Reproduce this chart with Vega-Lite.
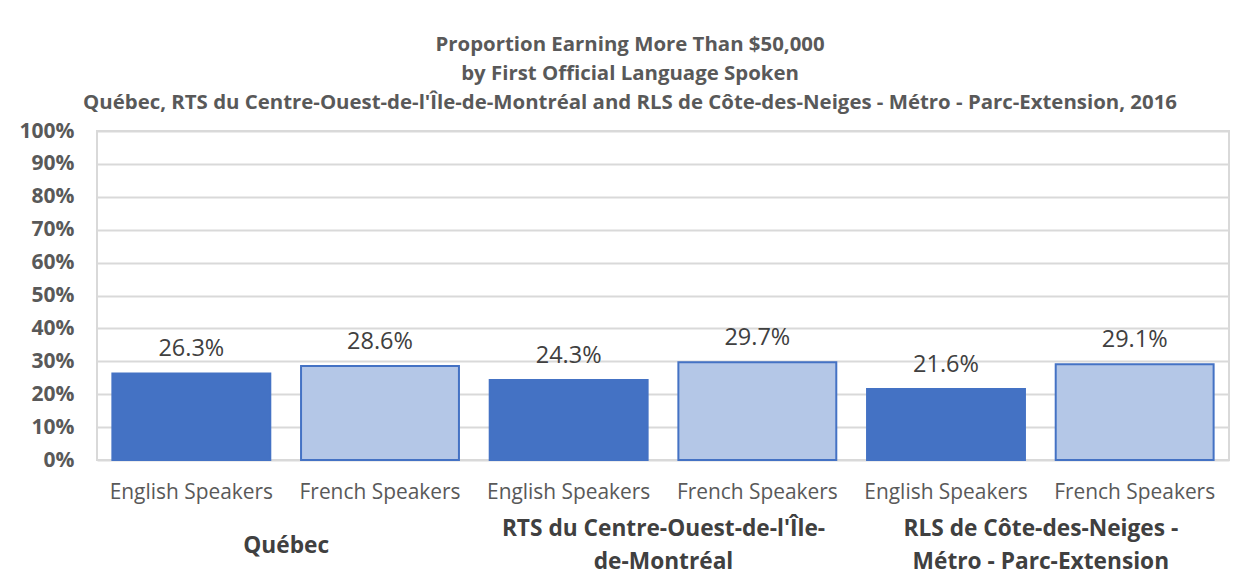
{
  "$schema": "https://vega.github.io/schema/vega-lite/v6.json",
  "autosize": {"type": "none"},
  "width": 1132,
  "height": 329,
  "padding": {"left": 97, "top": 131, "right": 19, "bottom": 120},
  "background": "white",
  "title": {
    "text": ["Proportion Earning More Than $50,000", "by First Official Language Spoken", "Québec, RTS du Centre-Ouest-de-l'Île-de-Montréal and RLS de Côte-des-Neiges - Métro - Parc-Extension, 2016"],
    "anchor": "middle",
    "frame": "bounds",
    "font": "Open Sans",
    "fontSize": 20.4,
    "fontWeight": "bold",
    "color": "#595959",
    "lineHeight": 29,
    "offset": 7,
    "dx": 6
  },
  "data": {
    "values": [
      {"region": "Québec", "lang": "English Speakers", "bar": "Québec|English Speakers", "value": 0.263},
      {"region": "Québec", "lang": "French Speakers", "bar": "Québec|French Speakers", "value": 0.286},
      {"region": "RTS du Centre-Ouest-de-l'Île-de-Montréal", "lang": "English Speakers", "bar": "RTS|English Speakers", "value": 0.243},
      {"region": "RTS du Centre-Ouest-de-l'Île-de-Montréal", "lang": "French Speakers", "bar": "RTS|French Speakers", "value": 0.297},
      {"region": "RLS de Côte-des-Neiges - Métro - Parc-Extension", "lang": "English Speakers", "bar": "RLS|English Speakers", "value": 0.216},
      {"region": "RLS de Côte-des-Neiges - Métro - Parc-Extension", "lang": "French Speakers", "bar": "RLS|French Speakers", "value": 0.291}
    ]
  },
  "layer": [
    {
      "encoding": {
        "x": {
          "field": "bar",
          "type": "nominal",
          "sort": null,
          "scale": {"paddingInner": 0.163, "paddingOuter": 0.0815},
          "axis": {
            "title": null,
            "labelExpr": "split(datum.label, '|')[1]",
            "labelAngle": 0,
            "labelFont": "Open Sans",
            "labelFontSize": 20.9,
            "labelColor": "#595959",
            "labelBaseline": "middle",
            "labelPadding": 32,
            "labelLimit": 400,
            "ticks": false,
            "domain": false,
            "grid": false
          }
        },
        "y": {
          "field": "value",
          "type": "quantitative",
          "scale": {"domain": [0, 1]},
          "axis": {
            "title": null,
            "format": ".0%",
            "values": [0, 0.1, 0.2, 0.3, 0.4, 0.5, 0.6, 0.7, 0.8, 0.9, 1],
            "labelFont": "Open Sans",
            "labelFontSize": 21,
            "labelFontWeight": "bold",
            "labelColor": "#595959",
            "labelPadding": 23,
            "ticks": false,
            "domain": false,
            "grid": true,
            "gridColor": "#d9d9d9",
            "gridWidth": 2
          }
        }
      },
      "layer": [
        {
          "mark": {"type": "bar", "strokeWidth": 2},
          "encoding": {
            "color": {
              "field": "lang",
              "type": "nominal",
              "scale": {"domain": ["English Speakers", "French Speakers"], "range": ["#4472C4", "#B4C7E7"]},
              "legend": null
            },
            "stroke": {
              "field": "lang",
              "type": "nominal",
              "scale": {"domain": ["English Speakers", "French Speakers"], "range": ["#4472C4", "#4472C4"]},
              "legend": null
            }
          }
        },
        {
          "mark": {"type": "text", "baseline": "alphabetic", "dy": -17, "font": "Open Sans", "fontSize": 23.5, "color": "#404040"},
          "encoding": {
            "text": {"field": "value", "type": "quantitative", "format": ".1%"}
          }
        }
      ]
    },
    {
      "mark": {"type": "text", "opacity": 0},
      "encoding": {
        "x": {
          "field": "region",
          "type": "nominal",
          "sort": null,
          "scale": {"paddingInner": 0, "paddingOuter": 0},
          "axis": {
            "title": null,
            "orient": "bottom",
            "labelExpr": "datum.value === \"RTS du Centre-Ouest-de-l'Île-de-Montréal\" ? [\"RTS du Centre-Ouest-de-l'Île-\", \"de-Montréal\"] : datum.value === \"RLS de Côte-des-Neiges - Métro - Parc-Extension\" ? [\"RLS de Côte-des-Neiges -\", \"Métro - Parc-Extension\"] : datum.label",
            "labelAngle": 0,
            "labelFont": "Open Sans",
            "labelFontSize": 22.7,
            "labelFontWeight": "bold",
            "labelColor": "#404040",
            "labelBaseline": "middle",
            "labelLineHeight": 33,
            "labelPadding": {"condition": {"test": "datum.value === 'Québec'", "value": 85}, "value": 68},
            "labelLimit": 600,
            "ticks": false,
            "domain": false,
            "grid": false
          }
        },
        "text": {"value": ""}
      }
    }
  ],
  "resolve": {"scale": {"x": "independent"}},
  "config": {
    "view": {"stroke": "#d9d9d9", "strokeWidth": 2}
  }
}
